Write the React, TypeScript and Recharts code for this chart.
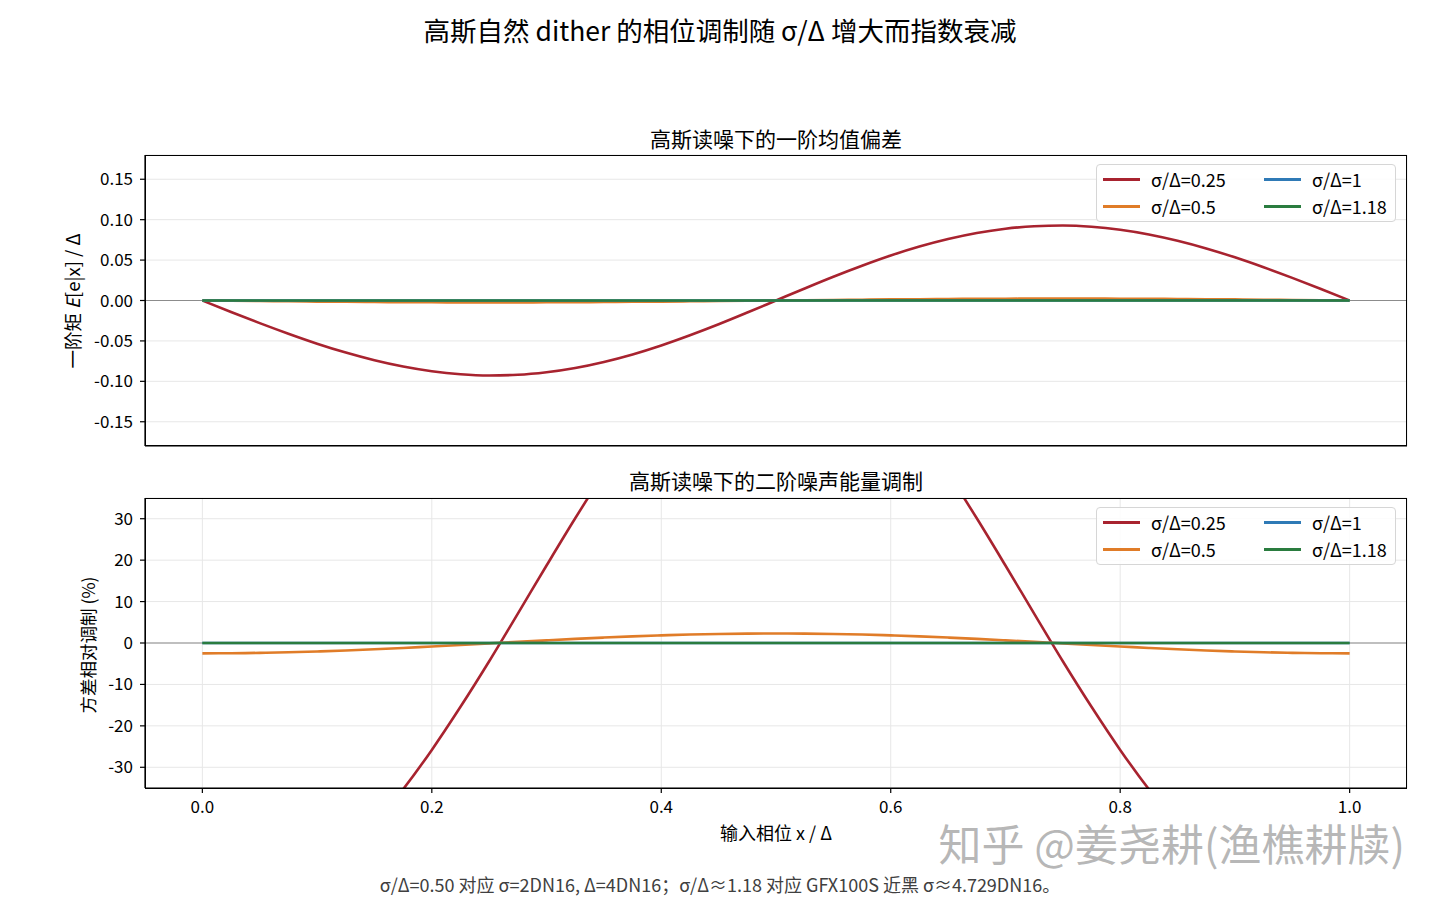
import React from 'react';
import { LineChart, Line, XAxis, YAxis, CartesianGrid, ReferenceLine } from 'recharts';

const FONT = "'Noto Sans CJK SC', 'Noto Sans', sans-serif";

// input phase x / Δ
const xPhase = [
  0, 0.025, 0.05, 0.075, 0.1, 0.125, 0.15, 0.175, 0.2, 0.225,
  0.25, 0.275, 0.3, 0.325, 0.35, 0.375, 0.4, 0.425, 0.45, 0.475,
  0.5, 0.525, 0.55, 0.575, 0.6, 0.625, 0.65, 0.675, 0.7, 0.725,
  0.75, 0.775, 0.8, 0.825, 0.85, 0.875, 0.9, 0.925, 0.95, 0.975, 1.0,
];

const seriesNames = ['σ/Δ=0.25', 'σ/Δ=0.5', 'σ/Δ=1', 'σ/Δ=1.18'];
const seriesColors = ['#a8232f', '#e07c28', '#2f7ab6', '#2a7c3f'];

// first-order mean bias E[e|x]/Δ
const meanBias025 = [
  0, -0.0142, -0.028, -0.0411, -0.0534, -0.0644, -0.0739, -0.0817, -0.0875, -0.0912,
  -0.0927, -0.0919, -0.0888, -0.0835, -0.076, -0.0667, -0.0556, -0.043, -0.0294, -0.0149,
  0, 0.0149, 0.0294, 0.043, 0.0556, 0.0667, 0.076, 0.0835, 0.0888, 0.0919,
  0.0927, 0.0912, 0.0875, 0.0817, 0.0739, 0.0644, 0.0534, 0.0411, 0.028, 0.0142, 0,
];
const meanBias05 = [
  0, -0.0004, -0.0007, -0.001, -0.0014, -0.0016, -0.0019, -0.002, -0.0022, -0.0023,
  -0.0023, -0.0023, -0.0022, -0.002, -0.0019, -0.0016, -0.0014, -0.001, -0.0007, -0.0004,
  0, 0.0004, 0.0007, 0.001, 0.0014, 0.0016, 0.0019, 0.002, 0.0022, 0.0023,
  0.0023, 0.0023, 0.0022, 0.002, 0.0019, 0.0016, 0.0014, 0.001, 0.0007, 0.0004, 0,
];
const meanBias1 = [
  0, 0, 0, 0, 0, 0, 0, 0, 0, 0, 0, 0, 0, 0, 0, 0, 0, 0, 0, 0,
  0, 0, 0, 0, 0, 0, 0, 0, 0, 0, 0, 0, 0, 0, 0, 0, 0, 0, 0, 0, 0,
];
const meanBias118 = [
  0, 0, 0, 0, 0, 0, 0, 0, 0, 0, 0, 0, 0, 0, 0, 0, 0, 0, 0, 0,
  0, 0, 0, 0, 0, 0, 0, 0, 0, 0, 0, 0, 0, 0, 0, 0, 0, 0, 0, 0, 0,
];

// second-order variance modulation (%)
const varMod025 = [
  -67.9, -67.2, -65.2, -61.7, -57.0, -51.0, -43.7, -35.3, -25.8, -15.4,
  -4.4, 7.1, 18.7, 30.1, 41.0, 51.0, 59.8, 66.9, 72.3, 75.6,
  76.6, 75.6, 72.3, 66.9, 59.8, 51.0, 41.0, 30.1, 18.7, 7.1,
  -4.4, -15.4, -25.8, -35.3, -43.7, -51.0, -57.0, -61.7, -65.2, -67.2, -67.9,
];
const varMod05 = [
  -2.5, -2.47, -2.38, -2.24, -2.04, -1.8, -1.51, -1.19, -0.84, -0.48,
  -0.1, 0.28, 0.64, 0.99, 1.31, 1.6, 1.84, 2.04, 2.18, 2.27,
  2.3, 2.27, 2.18, 2.04, 1.84, 1.6, 1.31, 0.99, 0.64, 0.28,
  -0.1, -0.48, -0.84, -1.19, -1.51, -1.8, -2.04, -2.24, -2.38, -2.47, -2.5,
];
const varMod1 = [
  0, 0, 0, 0, 0, 0, 0, 0, 0, 0, 0, 0, 0, 0, 0, 0, 0, 0, 0, 0,
  0, 0, 0, 0, 0, 0, 0, 0, 0, 0, 0, 0, 0, 0, 0, 0, 0, 0, 0, 0, 0,
];
const varMod118 = [
  0, 0, 0, 0, 0, 0, 0, 0, 0, 0, 0, 0, 0, 0, 0, 0, 0, 0, 0, 0,
  0, 0, 0, 0, 0, 0, 0, 0, 0, 0, 0, 0, 0, 0, 0, 0, 0, 0, 0, 0, 0,
];

const xTicks = [0, 0.2, 0.4, 0.6, 0.8, 1.0];
const topYTicks = [-0.15, -0.1, -0.05, 0, 0.05, 0.1, 0.15];
const bottomYTicks = [-30, -20, -10, 0, 10, 20, 30];

const topData = xPhase.map((x, i) => ({
  x, s0: meanBias025[i], s1: meanBias05[i], s2: meanBias1[i], s3: meanBias118[i],
}));
const bottomData = xPhase.map((x, i) => ({
  x, s0: varMod025[i], s1: varMod05[i], s2: varMod1[i], s3: varMod118[i],
}));

const keys = ['s0', 's1', 's2', 's3'];

const tickStyle = { fontSize: 17, fill: '#000', fontFamily: FONT };

function LegendBox({ top }: { top: number }) {
  const cols = [[0, 1], [2, 3]];
  return (
    <div
      style={{
        position: 'absolute', left: 1096, top, width: 300, height: 58,
        border: '1px solid #d6d6d6', borderRadius: 4, background: 'rgba(255,255,255,0.85)',
        boxSizing: 'border-box',
      }}
    >
      {cols.map((col, ci) =>
        col.map((si, ri) => (
          <div
            key={si}
            style={{
              position: 'absolute', left: 6 + ci * 161, top: 1 + ri * 27, height: 26,
              display: 'flex', alignItems: 'center', whiteSpace: 'nowrap',
            }}
          >
            <div style={{ width: 37, height: 3, background: seriesColors[si] }} />
            <span style={{ marginLeft: 11, fontSize: 18, lineHeight: '26px', color: '#000' }}>{seriesNames[si]}</span>
          </div>
        ))
      )}
    </div>
  );
}

function Panel({
  data, domain, ticks, fmt, showXLabels, height, marginTop, marginBottom, xHeight,
}: any) {
  return (
    <LineChart
      width={1440}
      height={height}
      data={data}
      margin={{ top: marginTop, right: 33, left: 65, bottom: marginBottom }}
    >
      <CartesianGrid stroke="#e7e7e7" strokeWidth={1} />
      <XAxis
        dataKey="x"
        type="number"
        domain={[-0.05, 1.05]}
        ticks={xTicks}
        allowDataOverflow
        tickFormatter={(v: number) => v.toFixed(1)}
        tick={showXLabels ? tickStyle : false}
        tickSize={5}
        tickMargin={8}
        height={xHeight}
        axisLine={{ stroke: '#000', strokeWidth: 1.2 }}
        tickLine={{ stroke: '#000', strokeWidth: 1.2 }}
        interval={0}
      />
      <YAxis
        type="number"
        domain={domain}
        ticks={ticks}
        allowDataOverflow
        tickFormatter={fmt}
        tick={tickStyle}
        tickSize={5}
        tickMargin={7}
        width={80}
        interval={0}
        axisLine={{ stroke: '#000', strokeWidth: 1.2 }}
        tickLine={{ stroke: '#000', strokeWidth: 1.2 }}
      />
      <ReferenceLine y={0} stroke="#8c8c8c" strokeWidth={1.2} ifOverflow="hidden" />
      {keys.map((k, i) => (
        <Line
          key={k}
          dataKey={k}
          type="monotone"
          stroke={seriesColors[i]}
          strokeWidth={2.6}
          dot={false}
          activeDot={false}
          isAnimationActive={false}
        />
      ))}
    </LineChart>
  );
}

const frame = (top: number) => (
  <div
    style={{
      position: 'absolute', left: 145, top, width: 1262, height: 291,
      border: '1.2px solid #000', boxSizing: 'border-box', pointerEvents: 'none',
    }}
  />
);

export default function App() {
  return (
    <div
      style={{
        position: 'absolute', left: 0, top: 0, width: 1440, height: 902,
        background: '#fff', fontFamily: FONT, color: '#000', overflow: 'hidden',
      }}
    >
      <div style={{ position: 'absolute', left: 0, top: 0 }}>
        <Panel
          data={topData}
          domain={[-0.18, 0.18]}
          ticks={topYTicks}
          fmt={(v: number) => v.toFixed(2)}
          showXLabels={false}
          height={470}
          marginTop={155}
          marginBottom={4}
          xHeight={20}
        />
      </div>
      <div style={{ position: 'absolute', left: 0, top: 470 }}>
        <Panel
          data={bottomData}
          domain={[-35, 35]}
          ticks={bottomYTicks}
          fmt={(v: number) => String(v)}
          showXLabels={true}
          height={432}
          marginTop={28}
          marginBottom={84}
          xHeight={30}
        />
      </div>
      {frame(155)}
      {frame(497.5)}

      {/* suptitle */}
      <div style={{ position: 'absolute', left: 0, width: 1440, top: 11, textAlign: 'center', fontSize: 26.5, lineHeight: '38px' }}>
        高斯自然 dither 的相位调制随 σ/Δ 增大而指数衰减
      </div>
      {/* subplot titles */}
      <div style={{ position: 'absolute', left: 145, width: 1262, top: 123, textAlign: 'center', fontSize: 21, lineHeight: '30px' }}>
        高斯读噪下的一阶均值偏差
      </div>
      <div style={{ position: 'absolute', left: 145, width: 1262, top: 465, textAlign: 'center', fontSize: 21, lineHeight: '30px' }}>
        高斯读噪下的二阶噪声能量调制
      </div>
      {/* y labels */}
      <div style={{ position: 'absolute', left: 72, top: 301, width: 0, height: 0 }}>
        <div style={{ position: 'absolute', transform: 'translate(-50%,-50%) rotate(-90deg)', whiteSpace: 'nowrap', fontSize: 18.5, lineHeight: '24px' }}>
          一阶矩 <i>E</i>[e|x] / Δ
        </div>
      </div>
      <div style={{ position: 'absolute', left: 88, top: 645, width: 0, height: 0 }}>
        <div style={{ position: 'absolute', transform: 'translate(-50%,-50%) rotate(-90deg)', whiteSpace: 'nowrap', fontSize: 17.5, lineHeight: '24px' }}>
          方差相对调制 (%)
        </div>
      </div>
      {/* x label */}
      <div style={{ position: 'absolute', left: 145, width: 1262, top: 820, textAlign: 'center', fontSize: 18, lineHeight: '24px' }}>
        输入相位 x / Δ
      </div>
      {/* footnote */}
      <div style={{ position: 'absolute', left: 0, width: 1440, top: 872, textAlign: 'center', fontSize: 18, lineHeight: '24px', color: '#404040' }}>
        σ/Δ=0.50 对应 σ=2DN16, Δ=4DN16；σ/Δ≈1.18 对应 GFX100S 近黑 σ≈4.729DN16。
      </div>
      {/* watermark */}
      <div style={{ position: 'absolute', left: 905, width: 500, top: 822, textAlign: 'right', fontSize: 43, lineHeight: '40px', color: 'rgba(170,170,170,0.85)', whiteSpace: 'nowrap' }}>
        知乎 @姜尧耕(渔樵耕牍)
      </div>

      <LegendBox top={164} />
      <LegendBox top={507} />
    </div>
  );
}
